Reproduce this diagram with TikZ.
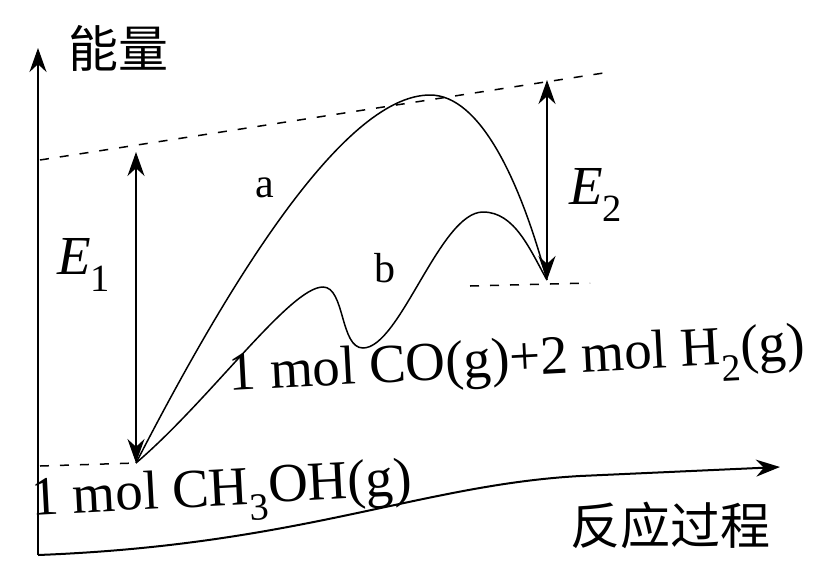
\documentclass[tikz,border=0pt]{standalone}
\usepackage{fontspec}
\setmainfont{Liberation Serif}
\newfontfamily\cjk{Noto Sans CJK SC}
\usetikzlibrary{arrows.meta}

\begin{document}
\begin{tikzpicture}[
  x=1pt, y=-1pt,
  axis/.style={-{Stealth[length=24pt,width=17pt]}, line width=2pt},
  guide/.style={dashed, dash pattern=on 9pt off 11pt, line width=1.5pt},
  dimarr/.style={{Stealth[length=24pt,width=17pt]}-{Stealth[length=24pt,width=17pt]}, line width=1.5pt},
  path/.style={line width=1.5pt},
  lbl/.style={font=\fontsize{55}{60}\selectfont, inner sep=0pt},
  hanzi/.style={font=\cjk\fontsize{50}{56}\selectfont, inner sep=0pt},
  tag/.style={font=\fontsize{42}{48}\selectfont, inner sep=0pt},
]
\useasboundingbox (0,0) rectangle (816,560);

% Key points
\coordinate (origin) at (38,555);
\coordinate (ytip) at (38,48);
\coordinate (xtip) at (780,467);
\coordinate (react) at (136,463);
\coordinate (peakA) at (430,95);
\coordinate (peakB1) at (323,287);
\coordinate (dipB) at (363,348);
\coordinate (peakB2) at (483,212);
\coordinate (prod) at (547,280);
\coordinate (eonetop) at (136,152);
\coordinate (etwotop) at (547,80);

% Axes
\draw[axis] (origin) -- (ytip);
\draw[axis] (origin) .. controls (300,545) and (420,485) .. (580,476) -- (xtip);

% Dashed guides
\draw[guide] (40,160) -- (610,72);
\draw[guide] (40,466) -- (react);
\draw[guide] (470,286) -- (590,283);

% Path a
\draw[path] (react) .. controls (220,300) and (340,95) .. (peakA)
  .. controls (480,95) and (520,180) .. (prod);
% Path b
\draw[path] (react) .. controls (210,400) and (290,287) .. (peakB1)
  .. controls (345,287) and (340,348) .. (dipB)
  .. controls (400,348) and (440,212) .. (peakB2)
  .. controls (515,212) and (530,250) .. (prod);

% Energy arrows
\draw[dimarr] (eonetop) -- (react);
\draw[dimarr] (etwotop) -- (prod);

% Labels
\node[hanzi] (energy) at (118,48) {能量};
\node[hanzi] (progress) at (670,525) {反应过程};
\node[lbl, rotate=3] (methanol) at (222,495) {1 mol CH\textsubscript{3}OH(g)};
\node[lbl, rotate=3] (products) at (517,365) {1 mol CO(g)+2 mol H\textsubscript{2}(g)};
\node[lbl] (eone) at (84,265) {\textit{E}\textsubscript{1}};
\node[lbl] (etwo) at (596,195) {\textit{E}\textsubscript{2}};
\node[tag] (labela) at (265,188) {a};
\node[tag] (labelb) at (385,268) {b};

\end{tikzpicture}
\end{document}
